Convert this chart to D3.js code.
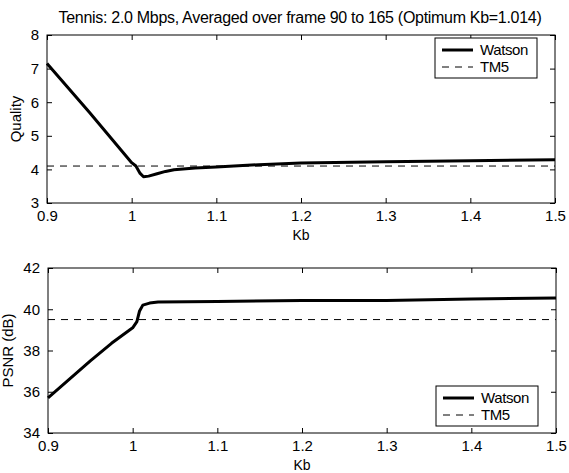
<!DOCTYPE html>
<html>
<head>
<meta charset="utf-8">
<script src="https://cdn.jsdelivr.net/npm/d3@7"></script>
<style>
  body { margin: 0; background: #fff; }
  svg text { font-family: "Liberation Sans", Arial, sans-serif; fill: #000; }
</style>
</head>
<body>
<div id="chart"></div>
<script>
// Kb samples for the Watson curves
var kbQuality = [0.9, 0.95, 1.0, 1.005, 1.01, 1.014, 1.02, 1.03, 1.04, 1.05, 1.075, 1.1, 1.15, 1.2, 1.3, 1.4, 1.5];
var watsonQuality = [7.15, 5.7, 4.2, 4.1, 3.88, 3.78, 3.8, 3.87, 3.94, 3.99, 4.04, 4.07, 4.14, 4.19, 4.23, 4.26, 4.29];
var tm5Quality = 4.1;

var kbPsnr = [0.9, 0.925, 0.95, 0.975, 1.0, 1.005, 1.008, 1.012, 1.02, 1.03, 1.1, 1.2, 1.3, 1.4, 1.5];
var watsonPsnr = [35.7, 36.6, 37.5, 38.35, 39.1, 39.4, 39.9, 40.2, 40.3, 40.35, 40.38, 40.42, 40.43, 40.5, 40.55];
var tm5Psnr = 39.5;

var xTicks = [0.9, 1.0, 1.1, 1.2, 1.3, 1.4, 1.5];
var qualityTicks = [3, 4, 5, 6, 7, 8];
var psnrTicks = [34, 36, 38, 40, 42];
var legendLabels = ["Watson", "TM5"];

var width = 569, height = 473;
var svg = d3.select("#chart").append("svg")
  .attr("width", width)
  .attr("height", height);

svg.append("text")
  .attr("x", 300).attr("y", 23)
  .attr("text-anchor", "middle")
  .attr("font-size", 16)
  .attr("letter-spacing", -0.3)
  .text("Tennis: 2.0 Mbps, Averaged over frame 90 to 165 (Optimum Kb=1.014)");

// Draws one matlab style subplot.
function drawPanel(box, kb, watson, tm5, yDomain, yTicks, yLabel, legendPos) {
  var x = d3.scaleLinear().domain([0.9, 1.5]).range([box.left, box.right]);
  var y = d3.scaleLinear().domain(yDomain).range([box.bottom, box.top]);
  var g = svg.append("g");

  // inward ticks on all four sides
  var tickLen = 5;
  g.append("g").attr("transform", "translate(0," + box.bottom + ")")
    .call(d3.axisBottom(x).tickValues(xTicks).tickSizeInner(-tickLen).tickSizeOuter(0)
      .tickPadding(7).tickFormat(d3.format("")));
  g.append("g").attr("transform", "translate(0," + box.top + ")")
    .call(d3.axisTop(x).tickValues(xTicks).tickSizeInner(-tickLen).tickSizeOuter(0).tickFormat(""));
  g.append("g").attr("transform", "translate(" + box.left + ",0)")
    .call(d3.axisLeft(y).tickValues(yTicks).tickSizeInner(-tickLen).tickSizeOuter(0)
      .tickPadding(8).tickFormat(d3.format("d")));
  g.append("g").attr("transform", "translate(" + box.right + ",0)")
    .call(d3.axisRight(y).tickValues(yTicks).tickSizeInner(-tickLen).tickSizeOuter(0).tickFormat(""));
  g.selectAll(".domain").remove();
  g.selectAll(".tick line").attr("stroke", "#000");
  g.selectAll(".tick text").attr("font-size", 15).attr("font-family", "Liberation Sans, Arial, sans-serif");

  g.append("rect")
    .attr("x", box.left).attr("y", box.top)
    .attr("width", box.right - box.left).attr("height", box.bottom - box.top)
    .attr("fill", "none").attr("stroke", "#000").attr("stroke-width", 1);

  // TM5 reference level
  g.append("line")
    .attr("x1", x(0.9)).attr("x2", x(1.5))
    .attr("y1", y(tm5)).attr("y2", y(tm5))
    .attr("stroke", "#000").attr("stroke-width", 1)
    .attr("stroke-dasharray", "7,6");

  var line = d3.line()
    .x(function (d, i) { return x(kb[i]); })
    .y(function (d) { return y(d); });
  g.append("path")
    .datum(watson)
    .attr("d", line)
    .attr("fill", "none")
    .attr("stroke", "#000")
    .attr("stroke-width", 3)
    .attr("stroke-linejoin", "round");

  g.append("text")
    .attr("x", (box.left + box.right) / 2).attr("y", box.bottom + 37)
    .attr("text-anchor", "middle").attr("font-size", 14)
    .text("Kb");
  g.append("text")
    .attr("transform", "translate(" + box.yLabelX + "," + (box.top + box.bottom) / 2 + ")rotate(-90)")
    .attr("text-anchor", "middle").attr("font-size", 15)
    .text(yLabel);

  // legend
  var lg = g.append("g").attr("transform", "translate(" + legendPos[0] + "," + legendPos[1] + ")");
  lg.append("rect").attr("width", 102).attr("height", 40)
    .attr("fill", "#fff").attr("stroke", "#000").attr("stroke-width", 1);
  lg.append("line").attr("x1", 7).attr("x2", 38).attr("y1", 12).attr("y2", 12)
    .attr("stroke", "#000").attr("stroke-width", 3);
  lg.append("line").attr("x1", 7).attr("x2", 38).attr("y1", 29).attr("y2", 29)
    .attr("stroke", "#000").attr("stroke-width", 1).attr("stroke-dasharray", "7,6");
  lg.selectAll("text.lab").data(legendLabels).enter().append("text")
    .attr("class", "lab")
    .attr("x", 45).attr("y", function (d, i) { return 17 + i * 17; })
    .attr("font-size", 15)
    .attr("letter-spacing", -0.4)
    .text(function (d) { return d; });
}

drawPanel({left: 47, right: 555, top: 35, bottom: 203, yLabelX: 21},
  kbQuality, watsonQuality, tm5Quality, [3, 8], qualityTicks, "Quality", [435, 38]);
drawPanel({left: 48, right: 556, top: 268, bottom: 433, yLabelX: 13},
  kbPsnr, watsonPsnr, tm5Psnr, [34, 42], psnrTicks, "PSNR (dB)", [436, 386]);
</script>
</body>
</html>
